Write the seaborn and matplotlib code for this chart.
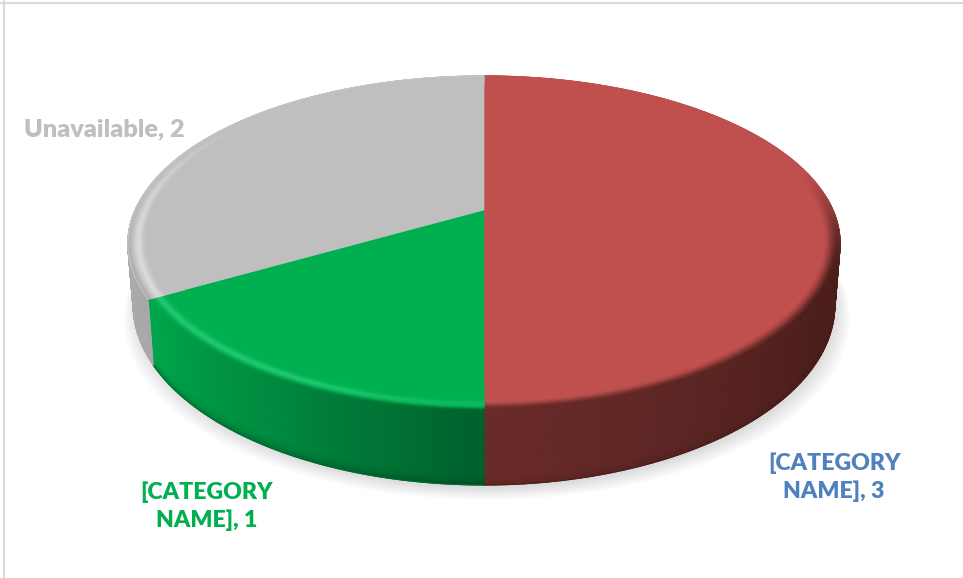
import numpy as np
import matplotlib
matplotlib.use("Agg")
import matplotlib.pyplot as plt
import seaborn as sns

categories = ["[CATEGORY\nNAME]", "[CATEGORY\nNAME]", "Unavailable"]
values = [3, 1, 2]
slice_colors = ["#c0504d", "#00b050", "#bfbfbf"]
label_colors = ["#4f81bd", "#00b050", "#bfbfbf"]
label_pos = [(834, 477), (207, 506), (104, 129)]
label_sizes = [16.7, 16.7, 18.2]

sns.set_theme(style="white")
plt.rcParams["font.family"] = ["Lato", "DejaVu Sans"]
palette = np.array(sns.color_palette(slice_colors))

fig = plt.figure(figsize=(9.63, 5.78), dpi=100, facecolor="white")
ax = fig.add_axes([0, 0, 1, 1])
ax.set_xlim(0, 963)
ax.set_ylim(578, 0)
ax.axis("off")

# Perspective disc: theta runs clockwise from 12 o'clock
CX, CY, A, B, K, D = 484, 210, 349, 161, 0.20, 59


def project(theta, r=1.0, z=0.0):
    t = np.radians(theta)
    u, v = r * np.sin(t), r * np.cos(t)
    w = 1 + K * v
    return CX + A * u / w * (1 - 0.015 * z), CY - B * v / w + D * z / w


def smooth(x):
    x = np.clip(x, 0, 1)
    return x * x * (3 - 2 * x)


def hexa(c):
    return np.array(matplotlib.colors.to_rgb(c))


side_stops = [
    ([60, 120, 180], ["#4b1e1c", "#4b1e1c", "#6a2b29"]),
    ([180, 210, 240], ["#00602c", "#008a3f", "#00a84c"]),
    ([240, 260, 290], ["#a8a8aa", "#acacae", "#b4b4b6"]),
]
bottom_dark = [0.10, 0.22, 0.0]


def side_color(i, theta):
    xs, cs = side_stops[i]
    cs = np.array([hexa(c) for c in cs])
    return np.stack([np.interp(theta, xs, cs[:, k]) for k in range(3)], axis=-1)


fractions = np.array(values) / np.sum(values)
edges = np.concatenate([[0], np.cumsum(fractions) * 360])

# Soft shadow below the body
full = np.linspace(0, 360, 361)
for n in range(14):
    s = n / 13
    sx, sy = project(full, 1.0, 1.0)
    sx = CX + (sx - CX) * (1.035 - 0.05 * s) + 3
    sy = sy + 15 - 15 * s
    ax.fill(sx, sy, color="black", alpha=0.013, lw=0, zorder=1)

# Side wall
spans = [(85, edges[1]), (edges[1], edges[2]), (edges[2], 268)]
for i, (a, b) in enumerate(spans):
    th = np.linspace(a, b, 90)
    zz = np.array([0, 0.3, 0.6, 0.85, 0.94, 1.0])
    T, Z = np.meshgrid(th, zz)
    X, Y = project(T, 1.0, Z)
    C = side_color(i, T)
    C = C * (1 - bottom_dark[i] * smooth((Z[..., None] - 0.9) / 0.1))
    ax.pcolormesh(X, Y, C, shading="gouraud", zorder=2)
    xo, yo = project(th, 1.0, 1.0)
    ax.plot(xo, yo, color=tuple(C[-1, 45]), lw=0.8, zorder=2.1)

# Top surface with bevelled rim
for i in range(3):
    a, b = edges[i], edges[i + 1]
    th = np.linspace(a, b, 180)
    xs, ys = project(th, 1.0)
    ax.fill(np.r_[CX, xs], np.r_[CY, ys], color=tuple(palette[i]), lw=0.4,
            ec=tuple(palette[i]), zorder=3)

    rr = np.r_[np.linspace(0.90, 0.95, 3), np.linspace(0.955, 1.0, 14)]
    T, R = np.meshgrid(th, rr)
    X, Y = project(T, R)
    base = palette[i]
    if i == 0:
        hi = hexa("#cc5e5a")
        hw = 0.8 * smooth((T - 130) / 50)
        ew = smooth((T - 72) / 40)
        ramp = smooth((R - 0.955) / 0.04)
    elif i == 1:
        hi = hexa("#22c873")
        hw = 0.45 + 0.55 * smooth((T - 180) / 30)
        ew = np.ones_like(T)
        ramp = smooth((R - 0.98) / 0.02)
    else:
        hi = hexa("#e2e2e2")
        hw = 0.8 * smooth((320 - T) / 65)
        ew = 0.8 * smooth((285 - T) / 35)
        ramp = smooth((R - 0.985) / 0.015)
    bump = np.exp(-((R - 0.972) / 0.012) ** 2)
    C = base + (hi - base) * (hw * bump)[..., None]
    E = side_color(i, T)
    C = C + (E - C) * (ew * ramp)[..., None]
    ax.pcolormesh(X, Y, C, shading="gouraud", zorder=4)
    xo, yo = project(th, 1.0)
    if i == 2:
        ax.plot(xo, yo, color="#c6c6c6", lw=0.7, zorder=4.1)

# Labels
for name, val, col, (lx, ly), fs in zip(categories, values, label_colors, label_pos, label_sizes):
    txt = ax.text(lx, ly, f"{name}, {val}", color=col, ha="center", va="center",
                  fontsize=fs, fontweight="heavy", linespacing=1.37, zorder=6)

# Chart frame
ax.axvline(4, color="#d9d9d9", lw=1.5, zorder=7)
ax.axhline(3, color="#d9d9d9", lw=1.5, zorder=7)

fig.savefig("out.png", dpi=100, facecolor="white")
